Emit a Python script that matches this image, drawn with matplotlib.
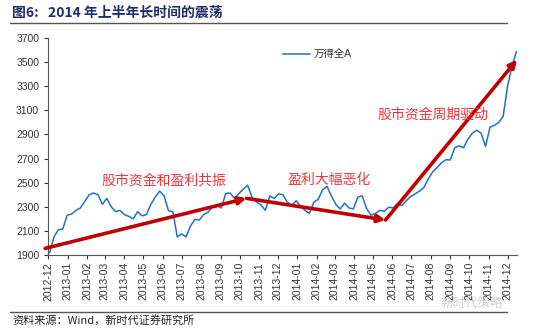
import numpy as np
import pandas as pd
import matplotlib
matplotlib.use('Agg')
from matplotlib import pyplot as plt
import matplotlib.dates as mdates

plt.rcParams['font.family'] = ['Liberation Sans', 'Noto Sans CJK SC', 'DejaVu Sans']

# weekly readings of the Wind All-A index, Dec 2012 - Dec 2014
start = '2012-12-03'
windA = [1920, 2050, 2110, 2115, 2230, 2240, 2270, 2290, 2345, 2400,
         2414, 2400, 2320, 2370, 2300, 2260, 2270, 2235, 2220, 2200,
         2260, 2225, 2235, 2320, 2380, 2430, 2390, 2268, 2258, 2050,
         2075, 2050, 2140, 2195, 2190, 2235, 2255, 2300, 2310, 2290,
         2410, 2414, 2370, 2410, 2448, 2478, 2375, 2340, 2315, 2270,
         2390, 2370, 2406, 2400, 2337, 2310, 2350, 2305, 2270, 2245,
         2337, 2362, 2440, 2470, 2390, 2320, 2282, 2330, 2290, 2282,
         2380, 2390, 2285, 2230, 2245, 2270, 2262, 2296, 2290, 2325,
         2310, 2350, 2385, 2406, 2430, 2460, 2530, 2590, 2625, 2665,
         2690, 2688, 2790, 2805, 2790, 2860, 2910, 2935, 2910, 2800,
         2960, 2975, 3000, 3050, 3300, 3463, 3587]
dates = pd.date_range(start, periods=len(windA), freq='7D')

# trend arrows: (start date, start value, end date, end value)
arrows = [('2012-11-26', 1955, '2013-10-12', 2370),
          ('2013-10-12', 2370, '2014-05-21', 2190),
          ('2014-05-21', 2190, '2014-12-16', 3520)]
notes = [('股市资金和盈利共振', '2013-06-02', 2520),
         ('盈利大幅恶化', '2014-02-20', 2520),
         ('股市资金周期驱动', '2014-08-04', 3060)]

fig = plt.figure(figsize=(5.5, 3.28), dpi=100)
ax = fig.add_axes([0.0878, 0.2226, 0.8522, 0.6616])

ax.plot(dates, windA, color='#2172C4', lw=1.1, label='万得全A')

for d0, v0, d1, v1 in arrows:
    ax.annotate('', xy=(pd.Timestamp(d1), v1), xytext=(pd.Timestamp(d0), v0),
                arrowprops=dict(arrowstyle='-|>', lw=2.6, color='#C00000',
                                mutation_scale=11, shrinkA=0, shrinkB=0),
                annotation_clip=False)

for txt, d, v in notes:
    ax.text(pd.Timestamp(d), v, txt, color='#F2353A', fontsize=10,
            ha='center', va='center', family=['Noto Sans CJK SC', 'DejaVu Sans'])

ax.set_xlim(pd.Timestamp('2012-12-01'), pd.Timestamp('2014-12-16'))
ax.set_ylim(1900, 3700)
ax.set_yticks(np.arange(1900, 3701, 200))
ax.xaxis.set_major_locator(mdates.MonthLocator())
ax.xaxis.set_major_formatter(mdates.DateFormatter('%Y-%m'))
plt.setp(ax.get_xticklabels(), rotation=90)
ax.tick_params(axis='both', labelsize=7.5, length=3, width=0.8, colors='#333333')
ax.tick_params(axis='x', pad=2)
for s in ['top', 'right']:
    ax.spines[s].set_visible(False)
for s in ['left', 'bottom']:
    ax.spines[s].set_color('#555555')
    ax.spines[s].set_linewidth(0.8)

leg = ax.legend(loc='upper left', bbox_to_anchor=(0.48, 0.99), frameon=False,
                fontsize=7.5, handlelength=2.6, handletextpad=0.4)
for t in leg.get_texts():
    t.set_color('#333333')

fig.text(0.022, 0.962, '图6:   2014 年上半年长时间的震荡', color='#1F2D6E',
         fontsize=10, fontweight='bold', va='center',
         family=['Noto Sans CJK SC', 'DejaVu Sans'])
fig.add_artist(plt.Line2D([0.018, 0.922], [0.93, 0.93], color='#555555', lw=1))
fig.add_artist(plt.Line2D([0.018, 0.922], [0.05, 0.05], color='#555555', lw=1))
fig.text(0.022, 0.022, '资料来源：Wind，新时代证券研究所', color='#222222',
         fontsize=8, va='center', family=['Noto Sans CJK SC', 'DejaVu Sans'])
fig.text(0.80, 0.075, '新时代策略', color='#cfcfcf', fontsize=9, va='center',
         family=['Noto Sans CJK SC', 'DejaVu Sans'])

fig.savefig('out.png', dpi=100)
